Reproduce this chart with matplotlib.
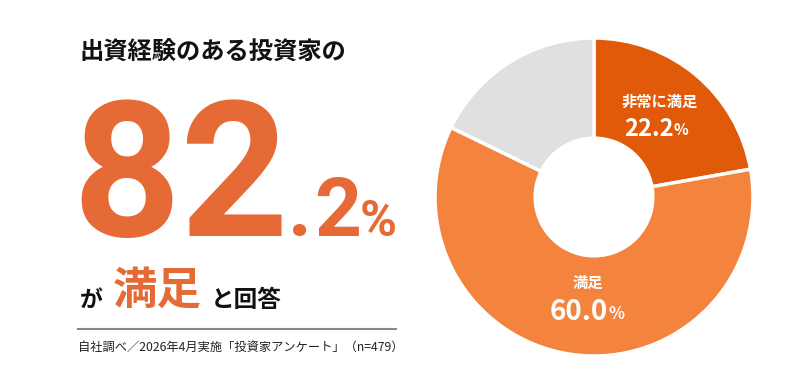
import matplotlib.pyplot as plt

plt.rcParams['font.family'] = ['Noto Sans CJK JP', 'DejaVu Sans']

# data
labels = ['非常に満足', '満足', 'その他']
values = [22.2, 60.0, 17.8]
colors = ['#E05A0A', '#F4833E', '#E0E0E0']
headline = '出資経験のある投資家の'
note = '自社調べ／2026年4月実施「投資家アンケート」（n=479）'

W, H = 800, 378
fig = plt.figure(figsize=(W/100, H/100), dpi=100)
fig.patch.set_facecolor('white')

def px(x, y):
    # pixel coords (top-left origin) -> figure fraction
    return x / W, 1 - y / H

ORANGE = '#E66A35'

# left block
fig.text(*px(80, 53), headline, fontsize=17.5, fontweight='bold', color='#111111', va='center', ha='left')
fig.text(*px(72, 236), '82', fontsize=136, fontweight='bold', color=ORANGE, va='baseline', ha='left', family='Roboto')
fig.text(*px(288, 236), '.', fontsize=59, fontweight='bold', color=ORANGE, va='baseline', ha='left', family='Roboto')
fig.text(*px(314, 236), '2', fontsize=59, fontweight='bold', color=ORANGE, va='baseline', ha='left', family='Roboto')
fig.text(*px(360, 236), '%', fontsize=36, fontweight='bold', color=ORANGE, va='baseline', ha='left', family='Roboto')

fig.text(*px(80, 300), 'が', fontsize=16.5, fontweight='bold', color='#111111', va='center', ha='left')
fig.text(*px(113, 291), '満足', fontsize=32, fontweight='bold', color=ORANGE, va='center', ha='left')
fig.text(*px(211, 300), 'と回答', fontsize=17, fontweight='bold', color='#111111', va='center', ha='left')

fig.add_artist(plt.Line2D([78/W, 396/W], [1-329/H, 1-329/H], color='#888888', lw=1.5))
fig.text(*px(78, 347), note, fontsize=8.8, color='#222222', va='center', ha='left')

# donut
cx, cy, r = 594, 197, 159
ax = fig.add_axes([(cx-r)/W, (H-cy-r)/H, 2*r/W, 2*r/H])
ax.pie(values, colors=colors, startangle=90, counterclock=False,
       wedgeprops=dict(width=0.63, edgecolor='white', linewidth=2.5))
ax.set_xlim(-1, 1)
ax.set_ylim(-1, 1)
ax.set_aspect('equal')
ax.axis('off')

ax.text(0.415, 0.6, labels[0], fontsize=11, fontweight='bold', color='white', ha='center', va='center')
ax.text(0.5, 0.43, f'{values[0]:.1f}', fontsize=17, fontweight='bold', color='white', ha='right', va='center')
ax.text(0.5, 0.42, '%', fontsize=11, fontweight='bold', color='white', ha='left', va='center')
ax.text(-0.04, -0.54, labels[1], fontsize=11, fontweight='bold', color='white', ha='center', va='center')
ax.text(0.09, -0.725, f'{values[1]:.1f}', fontsize=20, fontweight='bold', color='white', ha='right', va='center')
ax.text(0.09, -0.735, '%', fontsize=12, fontweight='bold', color='white', ha='left', va='center')

fig.savefig('out.png', dpi=100, facecolor='white')
